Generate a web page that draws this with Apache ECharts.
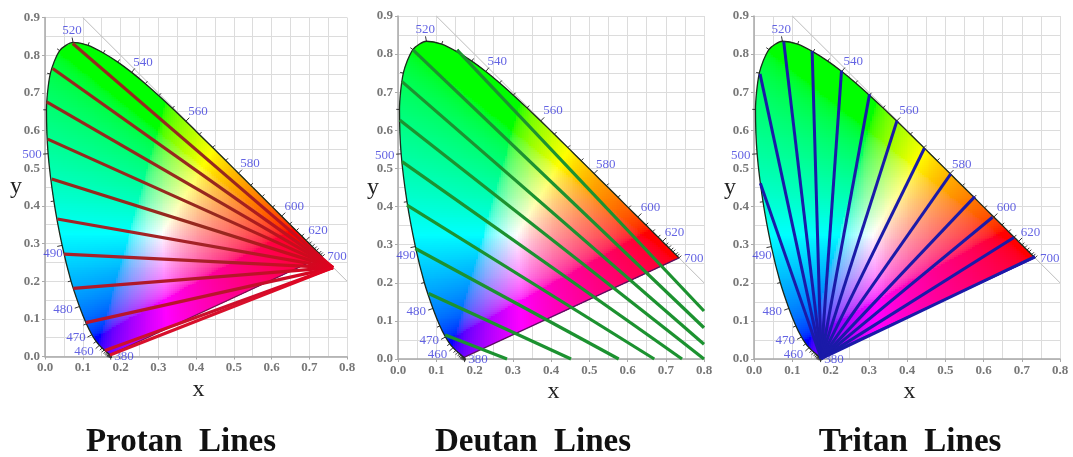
<!DOCTYPE html>
<html><head><meta charset="utf-8">
<style>html,body{margin:0;padding:0;background:#fff}#c{width:1073px;height:457px;filter:blur(0.55px)}</style>
<script src="https://cdn.jsdelivr.net/npm/echarts@6/dist/echarts.min.js"></script>
</head><body><div id="c"></div>
<script>
// CIE 1931 spectral locus read along the horseshoe boundary, 5 nm steps
const locusX=[.1741,.1740,.1738,.1736,.1733,.1730,.1726,.1721,.1714,.1703,.1689,.1669,.1644,.1611,.1566,.1510,.1440,.1355,.1241,.1096,.0913,.0687,.0454,.0235,.0082,.0039,.0139,.0389,.0743,.1142,.1547,.1929,.2296,.2658,.3016,.3373,.3731,.4087,.4441,.4788,.5125,.5448,.5752,.6029,.6270,.6482,.6658,.6801,.6915,.7006,.7079,.7140,.7190,.7260,.7300,.7347];
const locusY=[.0050,.0050,.0049,.0049,.0048,.0048,.0048,.0048,.0051,.0058,.0069,.0086,.0109,.0138,.0177,.0227,.0297,.0399,.0578,.0868,.1327,.2007,.2950,.4127,.5384,.6548,.7502,.8120,.8338,.8262,.8059,.7816,.7543,.7243,.6923,.6589,.6245,.5896,.5547,.5202,.4866,.4544,.4242,.3965,.3725,.3514,.3340,.3197,.3083,.2993,.2920,.2859,.2809,.2740,.2700,.2653];
const diagonalX=[.1,.8];
const diagonalY=[.9,.2];
// wavelength labels and where they sit
const waveLabels=['380','460','470','480','490','500','520','540','560','580','600','620','700'];
const waveLabelX=[.209,.103,.082,.0477,.021,-.0344,.0715,.2596,.405,.543,.660,.723,.7735];
const waveLabelY=[-.001,.0124,.0495,.124,.272,.535,.864,.7815,.6515,.511,.397,.333,.264];
const labelledTicks=[380,460,470,480,490,500,520,540,560,580,600,620];
// confusion lines
const protanStartX=[.0733,.0203,.0044,.0071,.0177,.0327,.0503,.0751,.1086,.159,.172];
const protanStartY=[.831,.7647,.676,.577,.471,.365,.272,.181,.090,.016,.004];
const protanEnd=[.763,.236];
const protanColors=['#96281e','#96281e','#96281e','#96281e','#96281e','#a32226','#a82028','#b0182a','#b8142c','#cc0f2c','#d8102c'];
const deutanStartX=[.1542,.0392,.0105,.0044,.0105,.0235,.0453,.080,.1237];
const deutanStartY=[.811,.811,.7277,.627,.518,.404,.290,.172,.063];
const deutanEndX=[.8,.8,.8,.8,.7425,.670,.577,.4523,.285];
const deutanEndY=[.126,.082,.0385,0,0,0,0,0,0];
const tritanStartX=[.0157,.0166,.0777,.152,.2288,.302,.3738,.4454,.5144,.5773,.6236,.6795,.7345];
const tritanStartY=[.748,.461,.8327,.808,.7565,.6945,.625,.553,.4855,.426,.372,.319,.2685];
const tritanEnd=[.1755,.001];
const panelTitles=['Protan  Lines','Deutan  Lines','Tritan  Lines'];
const panelGrids=[{left:45,top:17.5,width:302,height:339},{left:398,top:16,width:306,height:343},{left:754,top:16,width:306,height:343}];
const titleCenters=[176,528,905];
const yNameGaps=[23,19,18];

const SERIF='"Liberation Serif","Times New Roman",serif';
const poly=locusX.map((x,i)=>[x,locusY[i]]);
function inside(x,y){ // boundary test, slightly enlarged so the clip path trims the edge
  const wx=.33,wy=.33,k=.975;
  const px=wx+(x-wx)*k,py=wy+(y-wy)*k;let c=false;
  for(let i=0,j=poly.length-1;i<poly.length;j=i++){
    const a=poly[i],b=poly[j];
    if((a[1]>py)!==(b[1]>py)&&px<(b[0]-a[0])*(py-a[1])/(b[1]-a[1])+a[0])c=!c;
  }
  return c;
}
function chroma(x,y){
  const z=1-x-y;
  let r=3.2406*x-1.5372*y-.4986*z,g=-.9689*x+1.8758*y+.0415*z,b=.0557*x-.2040*y+1.0570*z;
  r=Math.max(r,0);g=Math.max(g,0);b=Math.max(b,0);
  const m=Math.max(r,g,b)||1;
  const f=v=>Math.round(255*Math.pow(v/m,1/2.2));
  return 'rgb('+f(r)+','+f(g)+','+f(b)+')';
}
const STEP=.005;
function fieldItem(params,api){
  const kids=[];
  for(let cx=0;cx<.76;cx+=STEP){
    for(let cy=0;cy<.85;cy+=STEP){
      const mx=cx+STEP/2,my=cy+STEP/2;
      if(!inside(mx,my))continue;
      const p=api.coord([cx,cy+STEP]),q=api.coord([cx+STEP,cy]);
      const x=Math.floor(p[0]),y=Math.floor(p[1]);
      kids.push({type:'rect',silent:true,shape:{x,y,width:Math.ceil(q[0])-x,height:Math.ceil(q[1])-y},style:{fill:chroma(mx,my)}});
    }
  }
  return {type:'group',silent:true,clipPath:{type:'polygon',shape:{points:poly.map(d=>api.coord(d)),smooth:.25}},children:kids};
}
function tickItem(params,api){
  const i=params.dataIndex,n=locusX.length;
  const p=api.coord([locusX[i],locusY[i]]);
  const a=api.coord(poly[Math.max(i-1,0)]),b=api.coord(poly[Math.min(i+1,n-1)]);
  let dx=b[1]-a[1],dy=a[0]-b[0];
  let l=Math.hypot(dx,dy);
  if(l<.01){dx=1;dy=1;l=Math.SQRT2;}
  dx/=l;dy/=l;
  const w=api.coord([.33,.33]);
  if((p[0]-w[0])*dx+(p[1]-w[1])*dy<0){dx=-dx;dy=-dy;}
  const nm=380+i*5;
  const len=labelledTicks.indexOf(nm)>=0?5:3.2;
  return {type:'line',silent:true,shape:{x1:p[0],y1:p[1],x2:p[0]+dx*len,y2:p[1]+dy*len},style:{stroke:'#333',lineWidth:1}};
}
const option={animation:false,backgroundColor:'#fff',title:[],grid:[],xAxis:[],yAxis:[],series:[]};
function grad(a,b){return {type:'linear',x:0,y:0,x2:1,y2:0,colorStops:[{offset:0,color:a},{offset:.6,color:a},{offset:1,color:b}]};}
function lineS(i,pts,style,z,smooth){
  return {type:'line',xAxisIndex:i,yAxisIndex:i,data:pts,showSymbol:false,silent:true,clip:false,z:z||3,lineStyle:style,smooth:smooth||false};
}
panelGrids.forEach((g,i)=>{
  option.grid.push(g);
  option.title.push({text:panelTitles[i],left:titleCenters[i],top:421,textAlign:'center',textStyle:{fontFamily:SERIF,fontWeight:'bold',fontSize:33,color:'#111'}});
  const axisBase={min:0,type:'value',gridIndex:i,
    axisLine:{show:true,onZero:false,lineStyle:{color:'#a8a8a8',width:1.5}},
    axisTick:{show:true,length:3,lineStyle:{color:'#aaa'}},
    minorTick:{show:false,splitNumber:2},
    splitLine:{show:true,lineStyle:{color:'#dcdcdc',width:1}},
    minorSplitLine:{show:true,lineStyle:{color:'#dcdcdc',width:1}},
    axisLabel:{fontFamily:SERIF,fontSize:13,fontWeight:'bold',color:'#777',margin:5,formatter:v=>v.toFixed(1),showMinLabel:true,showMaxLabel:true},
    nameLocation:'middle',nameMoveOverlap:false};
  option.xAxis.push(Object.assign({},axisBase,{max:.8,interval:.1,name:'x',nameGap:21,nameTextStyle:{fontFamily:SERIF,fontSize:24,color:'#222',padding:[0,0,0,5]}}));
  option.yAxis.push(Object.assign({},axisBase,{max:.9,interval:.1,name:'y',nameGap:yNameGaps[i],nameRotate:0,nameTextStyle:{fontFamily:SERIF,fontSize:24,color:'#222',padding:[10,0,0,0]}}));
  option.series.push(lineS(i,diagonalX.map((x,k)=>[x,diagonalY[k]]),{color:'#bdbdbd',width:1},1));
  option.series.push({type:'custom',xAxisIndex:i,yAxisIndex:i,data:[[.3,.3]],encode:{x:0,y:1},renderItem:fieldItem,z:2,silent:true,clip:false});
  option.series.push({type:'custom',xAxisIndex:i,yAxisIndex:i,data:poly,encode:{x:0,y:1},renderItem:tickItem,z:2,silent:true,clip:false});
  option.series.push(lineS(i,poly,{color:'#1c2a1c',width:1.3},4,.25));
  option.series.push(lineS(i,[poly[0],poly[poly.length-1]],{color:i===2?'#2a20c8':(i===0?'#7a1050':'#5a1060'),width:1.2},4));
  option.series.push({type:'scatter',xAxisIndex:i,yAxisIndex:i,symbolSize:0,silent:true,clip:false,z:5,
    data:waveLabels.map((t,k)=>({name:t,value:[waveLabelX[k],waveLabelY[k]]})),
    label:{show:true,position:'inside',formatter:'{b}',fontFamily:SERIF,fontSize:13,color:'#3c3cdc'}});
});
protanStartX.forEach((x,k)=>option.series.push(lineS(0,[[x,protanStartY[k]],protanEnd],{color:grad(protanColors[k],'#e0001e'),width:3.2},6)));
deutanStartX.forEach((x,k)=>option.series.push(lineS(1,[[x,deutanStartY[k]],[deutanEndX[k],deutanEndY[k]]],{color:'#1c9230',width:3.2},6)));
tritanStartX.forEach((x,k)=>option.series.push(lineS(2,[[x,tritanStartY[k]],tritanEnd],{color:'#1a1aa8',width:3},6)));
echarts.init(document.getElementById('c'),null,{renderer:'canvas'}).setOption(option);
</script></body></html>
